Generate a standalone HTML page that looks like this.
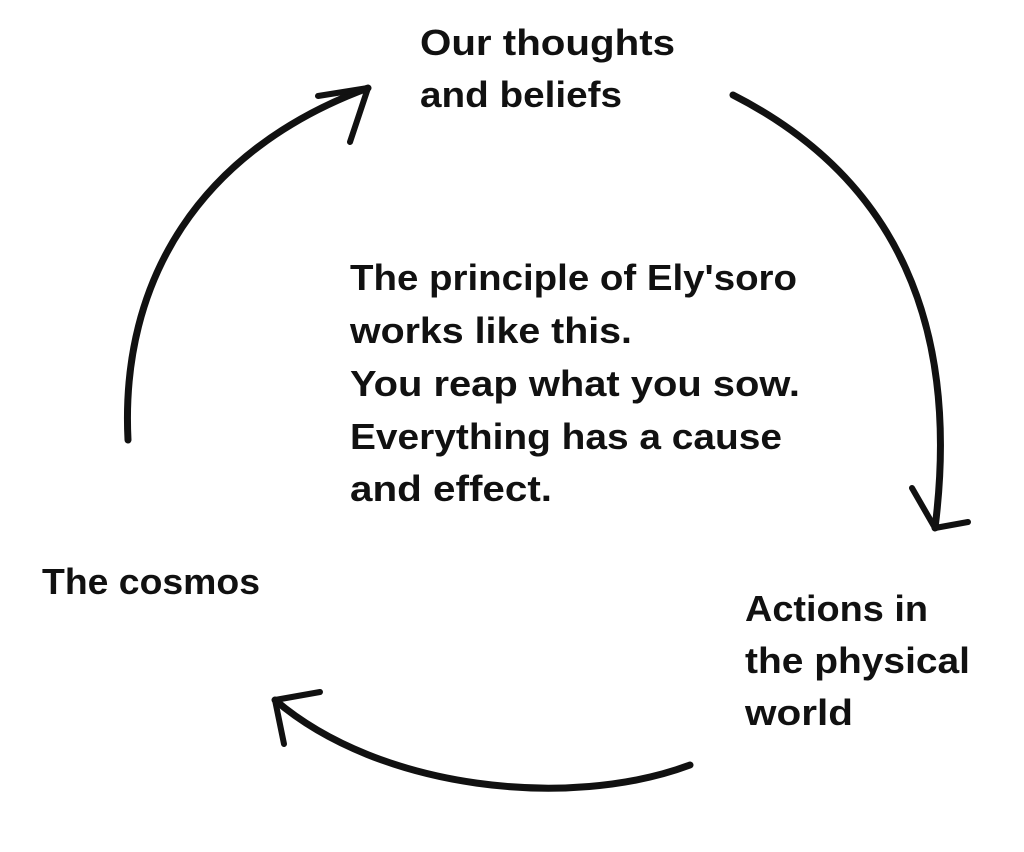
<!DOCTYPE html>
<html><head><meta charset="utf-8"><style>
html,body{margin:0;padding:0;background:#fff;}
svg{display:block;}
text{font-family:"Liberation Sans",sans-serif;font-weight:bold;font-size:36px;fill:#111;}
</style></head><body>
<svg width="1024" height="852" viewBox="0 0 1024 852">
<g fill="none" stroke="#111" stroke-linecap="round" stroke-linejoin="round">
<path d="M128 440 C 120 280, 200 150, 368 88" stroke-width="7"/>
<path d="M368 88 L318 96 M368 88 L350 142" stroke-width="6"/>
<path d="M733 95 C 900 180, 960 330, 935 528" stroke-width="7"/>
<path d="M935 528 L912 488 M935 528 L968 522" stroke-width="6"/>
<path d="M690 765 C 570 810, 380 790, 275 700" stroke-width="7"/>
<path d="M275 700 L320 692 M275 700 L284 744" stroke-width="6"/>
</g>
<text x="420" y="55" textLength="255" lengthAdjust="spacingAndGlyphs">Our thoughts</text>
<text x="420" y="107" textLength="202" lengthAdjust="spacingAndGlyphs">and beliefs</text>
<text x="350" y="290" textLength="447" lengthAdjust="spacingAndGlyphs">The principle of Ely'soro</text>
<text x="350" y="343" textLength="282" lengthAdjust="spacingAndGlyphs">works like this.</text>
<text x="350" y="396" textLength="450" lengthAdjust="spacingAndGlyphs">You reap what you sow.</text>
<text x="350" y="449" textLength="432" lengthAdjust="spacingAndGlyphs">Everything has a cause</text>
<text x="350" y="501" textLength="202" lengthAdjust="spacingAndGlyphs">and effect.</text>
<text x="42" y="594" textLength="218" lengthAdjust="spacingAndGlyphs">The cosmos</text>
<text x="745" y="621" textLength="183" lengthAdjust="spacingAndGlyphs">Actions in</text>
<text x="745" y="673" textLength="225" lengthAdjust="spacingAndGlyphs">the physical</text>
<text x="745" y="725" textLength="108" lengthAdjust="spacingAndGlyphs">world</text>
</svg>
</body></html>
